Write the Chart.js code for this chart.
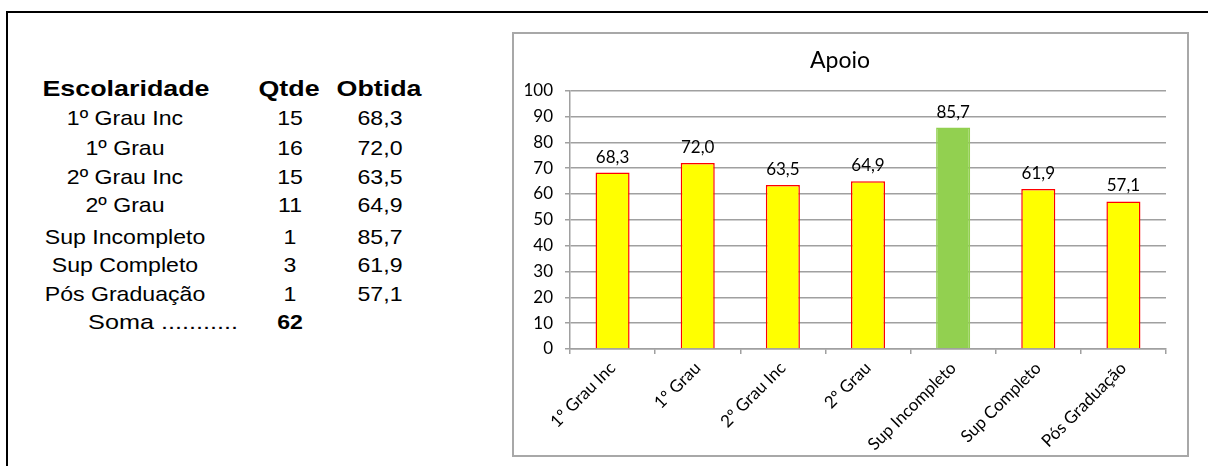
<!DOCTYPE html>
<html>
<head>
<meta charset="utf-8">
<script src="https://cdn.jsdelivr.net/npm/chart.js@4.4.1/dist/chart.umd.min.js"></script>
<style>
    html, body { margin: 0; padding: 0; background: #fff; }
    body { width: 1208px; height: 466px; position: relative; overflow: hidden; }
    #frame {
        position: absolute; left: 6px; top: 11px; width: 1300px; height: 600px;
        border-top: 2px solid #000; border-left: 2px solid #000;
    }
    #table { position: absolute; left: 0; top: 0; font-family: "Liberation Sans", Arial, sans-serif; color: #000; }
    .cell {
        position: absolute; white-space: nowrap; font-size: 21px; line-height: 24px;
        transform: translateX(-50%) scaleX(1.1);
    }
    .head { font-weight: bold; font-size: 22px; transform: translateX(-50%) scaleX(1.22); }
    .bold { font-weight: bold; }
    .soma { transform: translateX(-50%) scaleX(1.2); }
    #box {
        position: absolute; left: 512px; top: 32px; width: 673px; height: 421px;
        border: 2px solid #a8a8a8;
    }
</style>
</head>
<body>
<div id="frame"></div>
<div id="table"></div>
<div id="box"><canvas id="apoioChart" width="673" height="421"></canvas></div>

<script>
    "use strict";

    var categorias = ['1º Grau Inc', '1º Grau', '2º Grau Inc', '2º Grau', 'Sup Incompleto', 'Sup Completo', 'Pós Graduação'];
    var qtde = [15, 16, 15, 11, 1, 3, 1];
    var obtida = [68.3, 72.0, 63.5, 64.9, 85.7, 61.9, 57.1];
    var yTicks = [0, 10, 20, 30, 40, 50, 60, 70, 80, 90, 100];

    function fmt(v) {
        return v.toFixed(1).replace('.', ',');
    }

    fnTable();
    fnBarChart();

    function fnTable() {
        var t = document.getElementById('table');
        // column centres and row baselines (layout only)
        var colX = [125, 290, 380];
        var rowY = [125, 154.5, 183.5, 212, 243.5, 272, 301];

        function cell(text, x, baseline, cls) {
            var d = document.createElement('div');
            d.className = 'cell' + (cls ? ' ' + cls : '');
            d.textContent = text;
            d.style.left = x + 'px';
            d.style.top = (baseline - (cls === 'head' ? 19.5 : 19)) + 'px';
            t.appendChild(d);
        }

        cell('Escolaridade', colX[0] + 1, 96, 'head');
        cell('Qtde', colX[1] - 1, 96, 'head');
        cell('Obtida', colX[2] - 1, 96, 'head');

        categorias.forEach(function (c, i) {
            cell(c, colX[0], rowY[i]);
            cell(String(qtde[i]), colX[1], rowY[i]);
            cell(fmt(obtida[i]), colX[2], rowY[i]);
        });

        var soma = qtde.reduce(function (a, b) { return a + b; }, 0);
        cell('Soma ...........', 163, 329, 'soma');
        cell(String(soma), colX[1], 329, 'bold');
    }

    function fnBarChart() {
        var valueLabels = {
            id: 'valueLabels',
            afterDatasetsDraw: function (chart) {
                var ctx = chart.ctx;
                var meta = chart.getDatasetMeta(0);
                ctx.save();
                ctx.font = '17px Lato';
                ctx.fillStyle = '#000';
                ctx.textAlign = 'center';
                ctx.textBaseline = 'alphabetic';
                meta.data.forEach(function (bar, i) {
                    ctx.fillText(fmt(obtida[i]), bar.x, bar.y - 10);
                });
                ctx.restore();
            }
        };

        var ctx = document.getElementById('apoioChart').getContext('2d');
        var chart = new Chart(ctx, {
            type: 'bar',
            data: {
                labels: categorias,
                datasets: [{
                    label: 'Apoio',
                    data: obtida,
                    backgroundColor: obtida.map(function (v, i) { return i === 4 ? '#92d050' : '#ffff00'; }),
                    borderColor: obtida.map(function (v, i) { return i === 4 ? '#92d050' : '#ff0000'; }),
                    borderWidth: 1.5,
                    barPercentage: 0.4,
                    categoryPercentage: 1.0
                }]
            },
            options: {
                responsive: false,
                animation: false,
                layout: { padding: { top: 0, right: 21, bottom: 0, left: 0 } },
                plugins: {
                    legend: { display: false },
                    tooltip: { enabled: false },
                    title: {
                        display: true,
                        text: 'Apoio',
                        color: '#000',
                        font: { family: 'Lato', size: 23, weight: 'normal' },
                        padding: { top: 13, bottom: 16 }
                    }
                },
                scales: {
                    x: {
                        grid: { display: true, drawOnChartArea: false, drawTicks: true, tickLength: 5, color: '#a0a0a0', lineWidth: 1.5, offset: true },
                        border: { display: true, color: '#a0a0a0', width: 1.5 },
                        ticks: {
                            color: '#000',
                            font: { family: 'Lato', size: 17 },
                            minRotation: 45,
                            maxRotation: 45,
                            padding: 4,
                            autoSkip: false
                        },
                        afterFit: function (s) { s.height = 106; }
                    },
                    y: {
                        min: 0,
                        max: 100,
                        afterBuildTicks: function (s) { s.ticks = yTicks.map(function (v) { return { value: v }; }); },
                        grid: { color: '#a0a0a0', lineWidth: 1.5, tickLength: 5 },
                        border: { display: true, color: '#a0a0a0', width: 1.5 },
                        ticks: {
                            color: '#000',
                            font: { family: 'Lato', size: 17 },
                            padding: 12
                        },
                        afterFit: function (s) { s.width = 56; }
                    }
                }
            },
            plugins: [valueLabels]
        });
    }
</script>
</body>
</html>
